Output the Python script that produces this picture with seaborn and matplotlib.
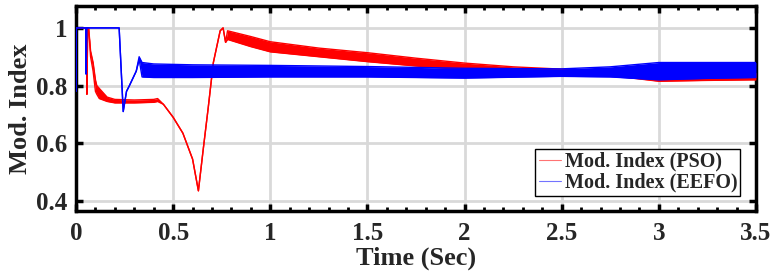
import matplotlib
matplotlib.use('Agg')
import matplotlib.pyplot as plt
from matplotlib.lines import Line2D
from matplotlib.ticker import MultipleLocator, FuncFormatter
import seaborn as sns
import pandas as pd
import numpy as np

####### Data #######
# PSO: time, lower / upper edge of the oscillation band
t_pso = [0, 0.055, 0.056, 0.06, 0.065, 0.075, 0.088, 0.1, 0.107, 0.12, 0.14, 0.16,
         0.2, 0.3, 0.4, 0.42, 0.45, 0.5, 0.55, 0.6, 0.63, 0.655, 0.68, 0.707, 0.742,
         0.757, 0.77, 0.78, 0.9, 1.0, 1.25, 1.5, 1.75, 2.0, 2.25, 2.5, 2.75, 3.0, 3.25, 3.5]
lo_pso = [1.0, 1.0, 0.77, 1.0, 1.0, 0.9, 0.85, 0.78, 0.77, 0.755, 0.75, 0.745,
          0.74, 0.74, 0.742, 0.745, 0.735, 0.69, 0.635, 0.545, 0.435, 0.58, 0.72, 0.88, 0.99,
          1.0, 0.95, 0.96, 0.935, 0.917, 0.9, 0.883, 0.868, 0.855, 0.847, 0.84, 0.835, 0.815, 0.818, 0.82]
hi_pso = [1.0, 1.0, 0.77, 1.0, 1.0, 0.92, 0.88, 0.82, 0.80, 0.79, 0.775, 0.76,
          0.752, 0.75, 0.752, 0.755, 0.735, 0.69, 0.635, 0.545, 0.435, 0.58, 0.72, 0.88, 0.99,
          1.0, 0.95, 0.99, 0.97, 0.952, 0.93, 0.914, 0.895, 0.878, 0.865, 0.857, 0.85, 0.848, 0.845, 0.845]

# EEFO
t_eefo = [0, 0.002, 0.05, 0.052, 0.055, 0.222, 0.243, 0.26, 0.275, 0.31, 0.325, 0.34,
          0.4, 0.6, 1.0, 1.5, 2.0, 2.5, 2.75, 3.0, 3.25, 3.5]
lo_eefo = [0.78, 1.0, 1.0, 0.84, 1.0, 1.0, 0.71, 0.78, 0.80, 0.85, 0.89, 0.83,
           0.828, 0.828, 0.83, 0.83, 0.826, 0.832, 0.83, 0.82, 0.825, 0.828]
hi_eefo = [0.78, 1.0, 1.0, 0.84, 1.0, 1.0, 0.71, 0.78, 0.80, 0.85, 0.9, 0.88,
           0.875, 0.872, 0.87, 0.866, 0.86, 0.858, 0.865, 0.88, 0.88, 0.88]

labels = ['Mod. Index (PSO)', 'Mod. Index (EEFO)']
colors = ['#ff0000', '#0000ff']
x_ticks = [0, 0.5, 1, 1.5, 2, 2.5, 3, 3.5]
y_ticks = [0.4, 0.6, 0.8, 1.0]

####### Plot #######
sns.set_style('white')
plt.rcParams['font.family'] = ['Liberation Serif', 'DejaVu Serif']
plt.rcParams['font.weight'] = 'bold'
plt.rcParams['axes.labelweight'] = 'bold'

fig = plt.figure(figsize=(7.78, 2.79), dpi=100)
ax = fig.add_axes([0.0977, 0.2437, 0.874, 0.7348])

series = [(t_pso, lo_pso, hi_pso), (t_eefo, lo_eefo, hi_eefo)]
for (t, lo, hi), c, lab in zip(series, colors, labels):
    df = pd.DataFrame({'t': t, 'lo': lo, 'hi': hi})
    ax.fill_between(df['t'], df['lo'], df['hi'], color=c, lw=0, zorder=3)
    sns.lineplot(data=df, x='t', y='lo', color=c, lw=1.0, ax=ax, zorder=3,
                 estimator=None, sort=False)
    sns.lineplot(data=df, x='t', y='hi', color=c, lw=1.0, ax=ax, zorder=3,
                 estimator=None, sort=False)

ax.set_xlim(0, 3.5)
ax.set_ylim(0.365, 1.076)
ax.set_xticks(x_ticks)
ax.xaxis.set_minor_locator(MultipleLocator(0.1))
ax.set_yticks(y_ticks)
fmt = FuncFormatter(lambda v, p: '%g' % v)
ax.xaxis.set_major_formatter(fmt)
ax.yaxis.set_major_formatter(fmt)

ax.grid(True, which='major', color='#d9d9d9', lw=2, zorder=0)
ax.set_axisbelow(True)
for s in ax.spines.values():
    s.set_linewidth(2.5)
    s.set_color('black')
    s.set_visible(True)

ax.tick_params(which='both', direction='in', top=True, right=True,
               bottom=True, left=True, color='black')
ax.tick_params(which='major', length=5, width=2.5, labelsize=18)
ax.tick_params(which='minor', length=3, width=2)
ax.tick_params(axis='x', which='major', pad=8)
ax.tick_params(axis='y', which='major', pad=6)

ax.set_xlabel('Time (Sec)', fontsize=19, labelpad=1)
ax.set_ylabel('Mod. Index', fontsize=19, labelpad=3)

handles = [Line2D([], [], color=c, lw=0.8, alpha=0.55) for c in colors]
leg = ax.legend(handles, labels, loc='lower right', bbox_to_anchor=(0.977, 0.075),
                borderaxespad=0, fancybox=False, framealpha=1, edgecolor='black',
                handlelength=1.1, handletextpad=0.2, labelspacing=0.05,
                borderpad=0.15, prop={'weight': 'bold', 'size': 14.5})
leg.get_frame().set_linewidth(1.0)
leg.set_zorder(5)

fig.savefig('out.png', dpi=100)
